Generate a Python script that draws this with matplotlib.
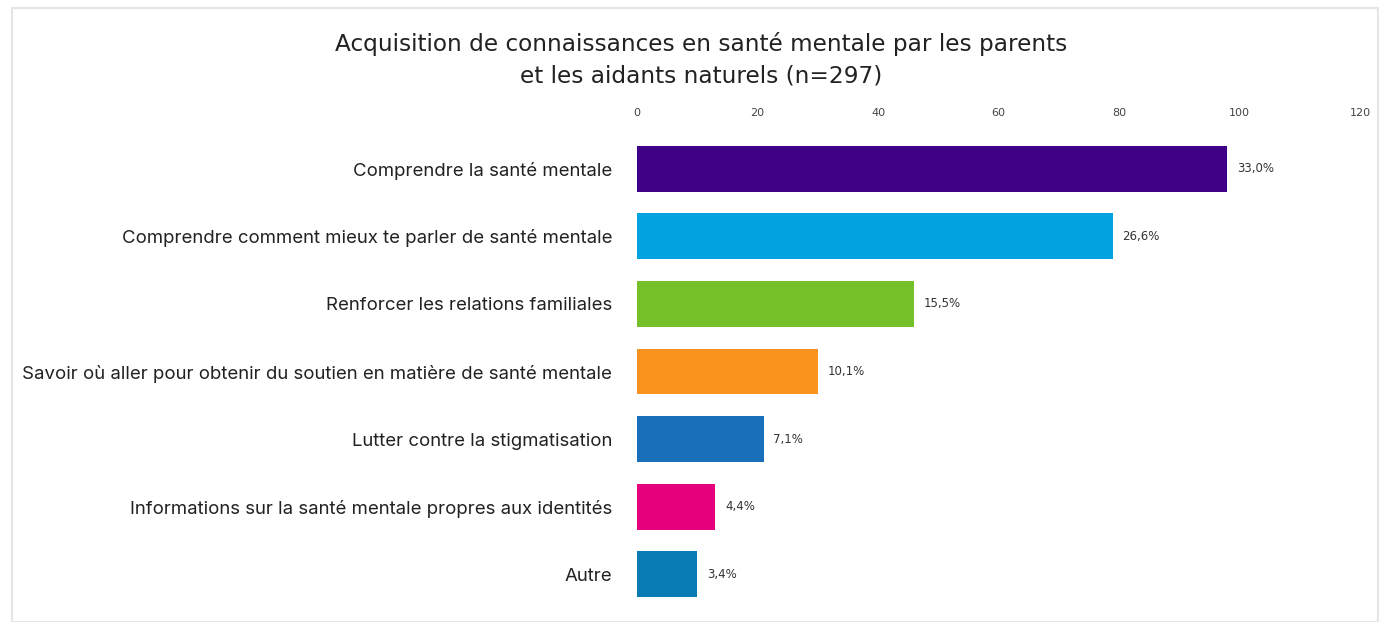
import matplotlib.pyplot as plt
from matplotlib.patches import Rectangle

# data
categories = ["Comprendre la santé mentale",
              "Comprendre comment mieux te parler de santé mentale",
              "Renforcer les relations familiales",
              "Savoir où aller pour obtenir du soutien en matière de santé mentale",
              "Lutter contre la stigmatisation",
              "Informations sur la santé mentale propres aux identités",
              "Autre"]
counts = [98, 79, 46, 30, 21, 13, 10]
pct_labels = ["33,0%", "26,6%", "15,5%", "10,1%", "7,1%", "4,4%", "3,4%"]
colors = ["#3d0086", "#00a2df", "#76c12a", "#f7931e", "#1a6fba", "#e5007d", "#0a7cb5"]
ticks = [0, 20, 40, 60, 80, 100, 120]

fig = plt.figure(figsize=(13.82, 6.22), dpi=100)
fig.patches.append(Rectangle((12/1382, 0), 1366/1382, 1 - 8/622, transform=fig.transFigure,
                             fill=False, edgecolor="#e6e6e6", linewidth=1.5))

ax = fig.add_axes([637/1382, 14/622, 723/1382, 473/622])
ypos = list(range(len(categories)))
ax.barh(ypos, counts, height=0.68, color=colors)
ax.set_ylim(len(categories) - 0.5, -0.5)
ax.set_xlim(0, 120)
ax.set_yticks(ypos)
ax.set_yticklabels(categories, fontsize=13.4, fontfamily="Inter", color="#222222")
ax.set_xticks(ticks)
ax.set_xticklabels([str(t) for t in ticks], fontsize=8, color="#444444")
ax.xaxis.tick_top()
ax.tick_params(axis="x", length=0, pad=12)
ax.tick_params(axis="y", length=0, pad=18)
for s in ax.spines.values():
    s.set_visible(False)

for y, c, lab in zip(ypos, counts, pct_labels):
    ax.text(c + 1.6, y, lab, va="center", ha="left", fontsize=8.5, color="#333333")

fig.text(701/1382, 1 - 60/622, "Acquisition de connaissances en santé mentale par les parents\net les aidants naturels (n=297)",
         ha="center", va="center", fontsize=16.7, fontfamily="DejaVu Sans", color="#222222", linespacing=1.45)

fig.savefig("out.png", dpi=100)
